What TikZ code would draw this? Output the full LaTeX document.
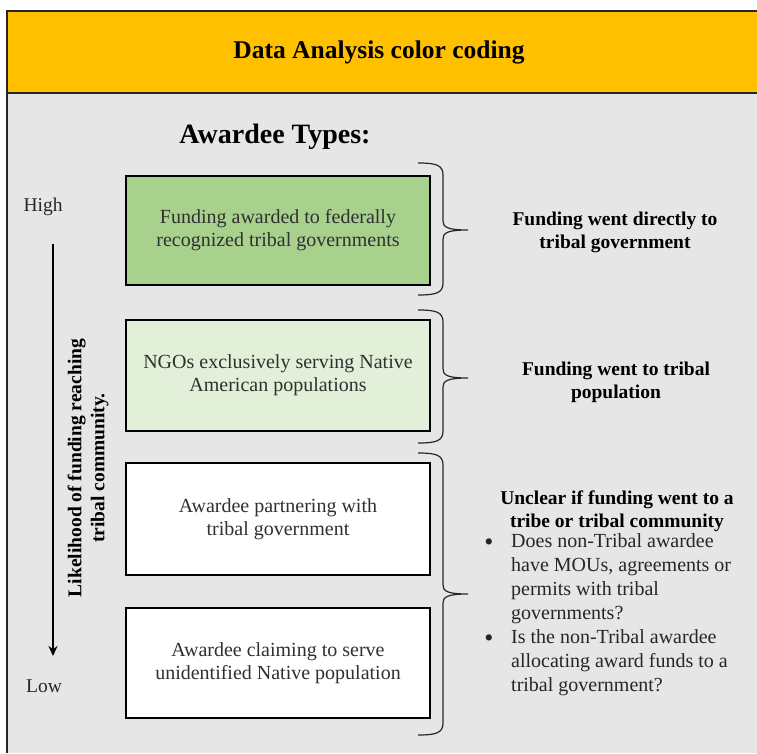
\documentclass[tikz,border=0pt]{standalone}
\usepackage{fontspec}
\setmainfont{Liberation Serif}
\usetikzlibrary{arrows.meta}
\definecolor{hdr}{HTML}{FFC000}
\definecolor{bg}{HTML}{E7E6E6}
\definecolor{gdark}{HTML}{A9D18E}
\definecolor{glight}{HTML}{E2F0D9}
\definecolor{txt}{HTML}{303030}
\tikzset{
  x=1pt,y=-1pt,
  awbox/.style={draw=black,line width=1.3pt,minimum width=304pt,align=center,text=txt,
    font=\fontsize{20}{23}\selectfont},
  braceline/.style={draw=black!85,line width=1.2pt},
  sidelbl/.style={align=center,font=\fontsize{19.5}{23}\selectfont\bfseries},
  bodytxt/.style={align=left,anchor=north west,inner sep=0pt,font=\fontsize{20}{24}\selectfont,text=black!85},
  dotlbl/.style={inner sep=0pt,font=\fontsize{26}{26}\selectfont,text=black!85},
}
\newcommand\mybrace[3]{%
  \draw[braceline] (418,#1) .. controls (436,#1) and (443,#1+2) .. (443,#1+12)
    -- (443,#3-9) .. controls (443,#3-3) and (447,#3) .. (468,#3)
    .. controls (447,#3) and (443,#3+3) .. (443,#3+9)
    -- (443,#2-12) .. controls (443,#2-2) and (436,#2) .. (418,#2);}
\begin{document}
\begin{tikzpicture}
\useasboundingbox (0,0) rectangle (757,753);
\fill[white] (0,0) rectangle (757,753);
\fill[bg] (7,11) rectangle (757,753);
\fill[hdr] (7,11) rectangle (757,93);
\draw[line width=1.5pt,black!85] (757,11) -- (7,11) -- (7,753);
\draw[line width=1.5pt,black!85] (7,93) -- (757,93);
\node[font=\fontsize{25.5}{28}\selectfont\bfseries] (title) at (379,52) {Data Analysis color coding};
\node[font=\fontsize{28}{30}\selectfont\bfseries] (types) at (275,137) {Awardee Types:};

\node[awbox,fill=gdark,minimum height=109pt] (b1) at (278,230.5) {Funding awarded to federally\\recognized tribal governments};
\node[awbox,fill=glight,minimum height=111pt] (b2) at (278,375.5) {NGOs exclusively serving Native\\American populations};
\node[awbox,fill=white,minimum height=112pt] (b3) at (278,519) {Awardee partnering with\\tribal government};
\node[awbox,fill=white,minimum height=110pt] (b4) at (278,663) {Awardee claiming to serve\\unidentified Native population};

\mybrace{163}{295}{230}
\mybrace{310}{443}{378}
\mybrace{453}{735}{594}

\node[font=\fontsize{19.5}{22}\selectfont,text=black!85] (high) at (43,207) {High};
\node[font=\fontsize{19.5}{22}\selectfont,text=black!85] (low) at (44,686) {Low};
\coordinate (atop) at (53,244);
\coordinate (abot) at (53,656);
\draw[line width=2.2pt,-{Stealth[length=10pt,width=9pt]}] (atop) -- (abot);
\node[sidelbl,rotate=90] (lik) at (88,468) {Likelihood of funding reaching\\tribal community.};

\node[sidelbl] (r1) at (615,232) {Funding went directly to\\tribal government};
\node[sidelbl] (r2) at (616,382) {Funding went to tribal\\population};
\node[sidelbl] (r3) at (617,511) {Unclear if funding went to a\\tribe or tribal community};
\node[bodytxt] (r3a) at (511,533) {Does non-Tribal awardee\\have MOUs, agreements or\\permits with tribal\\governments?};
\node[bodytxt] (r3b) at (511,629) {Is the non-Tribal awardee\\allocating award funds to a\\tribal government?};
\node[dotlbl] (d1) at (489,545) {\textbullet};
\node[dotlbl] (d2) at (489,641) {\textbullet};
\end{tikzpicture}
\end{document}
